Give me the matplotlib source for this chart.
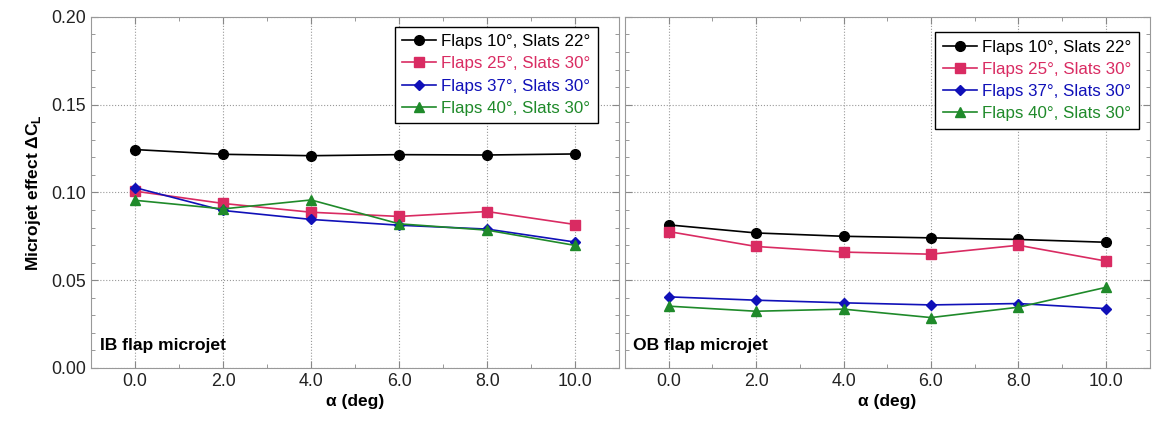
import numpy as np
import matplotlib
matplotlib.use("Agg")
import matplotlib.pyplot as plt
from matplotlib.ticker import MultipleLocator, FormatStrFormatter

plt.rcParams['font.family'] = ['Liberation Sans', 'DejaVu Sans']
plt.rcParams['mathtext.fontset'] = 'custom'
plt.rcParams['mathtext.rm'] = 'Liberation Sans'
plt.rcParams['mathtext.bf'] = 'Liberation Sans:bold'

alpha = [0.0, 2.0, 4.0, 6.0, 8.0, 10.0]
tick_labels = ['0.0', '2.0', '4.0', '6.0', '8.0', '10.0']

series_labels = ['Flaps 10°, Slats 22°', 'Flaps 25°, Slats 30°',
                 'Flaps 37°, Slats 30°', 'Flaps 40°, Slats 30°']

# inboard flap microjet
ib_f10 = [0.1244, 0.1217, 0.1209, 0.1215, 0.1213, 0.1219]
ib_f25 = [0.1007, 0.0937, 0.0887, 0.0863, 0.0891, 0.0817]
ib_f37 = [0.1027, 0.0897, 0.0846, 0.0813, 0.0791, 0.0717]
ib_f40 = [0.0955, 0.0906, 0.0957, 0.0821, 0.0785, 0.0698]

# outboard flap microjet
ob_f10 = [0.0815, 0.0769, 0.0750, 0.0741, 0.0732, 0.0716]
ob_f25 = [0.0777, 0.0692, 0.0660, 0.0648, 0.0699, 0.0609]
ob_f37 = [0.0405, 0.0386, 0.0371, 0.0359, 0.0367, 0.0338]
ob_f40 = [0.0352, 0.0323, 0.0335, 0.0287, 0.0346, 0.0459]

colors = ['black', '#d92b62', '#1010b8', '#1f8a2a']
markers = ['o', 's', 'D', '^']
msizes = [7, 7, 5, 6.5]

fig = plt.figure(figsize=(11.53, 4.21), dpi=100)
ax1 = fig.add_axes([0.079, 0.126, 0.458, 0.834])
ax2 = fig.add_axes([0.542, 0.126, 0.455, 0.834])


def draw(ax, data, note, bbox):
    for y, c, m, ms, lab in zip(data, colors, markers, msizes, series_labels):
        ax.plot(alpha, y, color=c, marker=m, markersize=ms, lw=1.2, label=lab)
    ax.set_xlim(-1, 11)
    ax.set_ylim(0, 0.2)
    ax.set_xticks(alpha)
    ax.set_xticklabels(tick_labels)
    ax.xaxis.set_minor_locator(MultipleLocator(1))
    ax.yaxis.set_major_locator(MultipleLocator(0.05))
    ax.yaxis.set_minor_locator(MultipleLocator(0.01))
    ax.yaxis.set_major_formatter(FormatStrFormatter('%.2f'))
    ax.grid(True, which='major', ls=':', color='#999999', lw=0.8)
    ax.tick_params(which='both', direction='in', top=True, right=True,
                   labelsize=12.8, color='#888888', labelcolor='#222222')
    ax.tick_params(which='major', length=5)
    ax.tick_params(which='minor', length=3)
    for s in ax.spines.values():
        s.set_color('#999999')
    ax.set_xlabel('α (deg)', fontsize=12.5, fontweight='bold', labelpad=3)
    ax.text(0.016, 0.043, note, transform=ax.transAxes, fontsize=12.6,
            fontweight='bold', va='bottom', ha='left')
    leg = ax.legend(loc='upper right', bbox_to_anchor=bbox, fontsize=12.2,
                    fancybox=False, framealpha=1, edgecolor='black',
                    handlelength=2.0, handletextpad=0.3, borderpad=0.45,
                    labelspacing=0.42, borderaxespad=0)
    leg.get_frame().set_linewidth(1.0)
    for t, c in zip(leg.get_texts(), colors):
        t.set_color(c)


draw(ax1, [ib_f10, ib_f25, ib_f37, ib_f40], 'IB flap microjet', (0.960, 0.972))
draw(ax2, [ob_f10, ob_f25, ob_f37, ob_f40], 'OB flap microjet', (0.979, 0.957))

ax1.set_ylabel(r'Microjet effect ΔC$_\mathbf{L}$', fontsize=12.5,
               fontweight='bold', labelpad=6)
ax2.tick_params(labelleft=False)

fig.savefig('out.png', dpi=100)
